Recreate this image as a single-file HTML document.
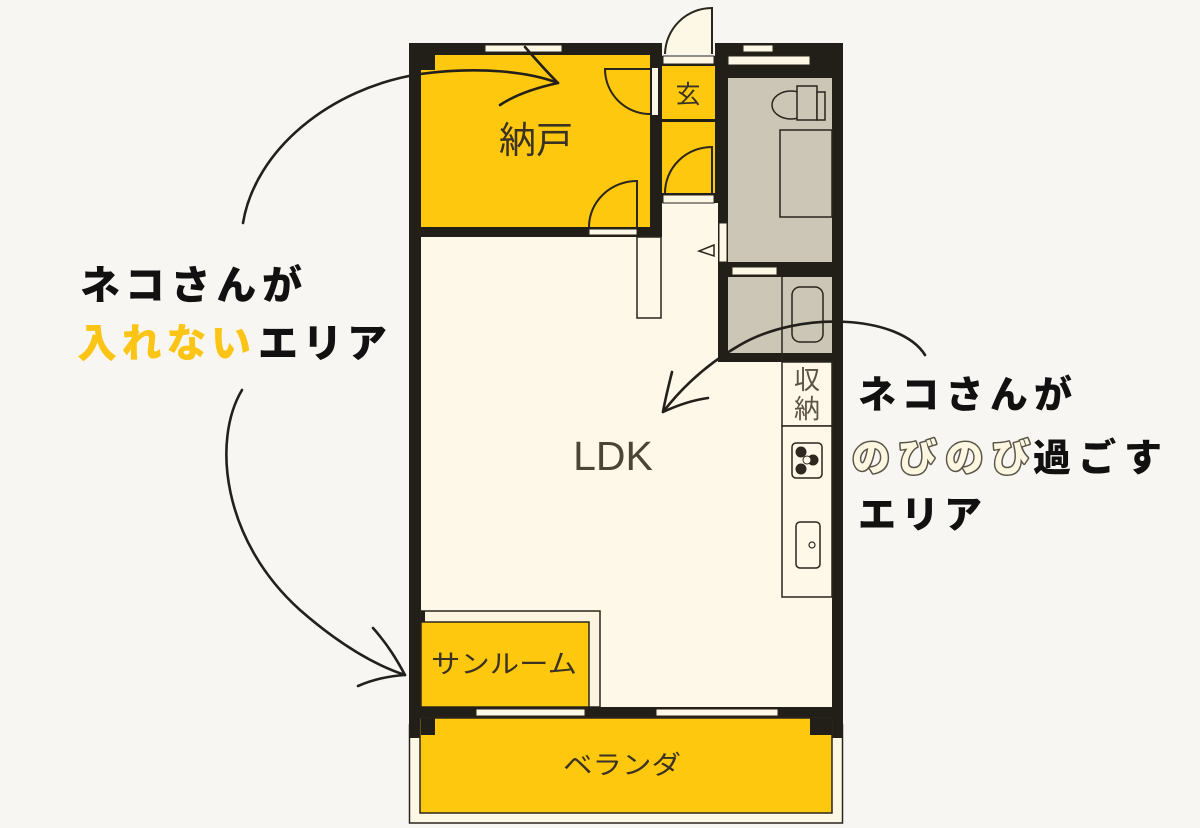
<!DOCTYPE html>
<html><head><meta charset="utf-8"><style>
html,body{margin:0;padding:0;background:#f7f6f2;}
svg{display:block}
</style></head><body>
<svg width="1200" height="828" viewBox="0 0 1200 828" xmlns="http://www.w3.org/2000/svg">
<rect width="1200" height="828" fill="#f7f6f2"/>

<!-- building walls -->
<rect x="409" y="43" width="434" height="695" fill="#221e18"/>
<!-- entrance gap -->
<rect x="662" y="40" width="53" height="16" fill="#f7f6f2"/>
<!-- entrance door outside -->
<path d="M712,54 L712,8 A47,47 0 0 0 665,54" fill="#fdf8e6" stroke="#2a251d" stroke-width="2"/>
<rect x="663" y="56" width="51" height="8" fill="#fdf8e6" stroke="#2a251d" stroke-width="1"/>

<!-- 納戸 -->
<rect x="421" y="55" width="229" height="172" fill="#fec80e"/>
<rect x="421" y="55" width="14" height="15" fill="#221e18"/>
<rect x="485" y="45" width="77" height="7" fill="#fdf8e6" stroke="#2a251d" stroke-width="1"/>
<rect x="652" y="68" width="6" height="47" fill="#fdf8e6"/>
<path d="M650,69 L605,69 A45,45 0 0 0 650,114" fill="none" stroke="#2a251d" stroke-width="2"/>
<rect x="589" y="229" width="48" height="6" fill="#fdf8e6" stroke="#2a251d" stroke-width="1"/>
<path d="M637,227 L637,181 A48,46 0 0 0 589,227" fill="none" stroke="#2a251d" stroke-width="2"/>
<text x="536" y="153" font-family="'Noto Sans CJK JP', sans-serif" font-size="37" fill="#3a3222" text-anchor="middle">納戸</text>

<!-- 玄 -->
<rect x="662" y="66" width="53" height="53" fill="#fec80e"/>
<rect x="662" y="122" width="53" height="71" fill="#fec80e"/>
<path d="M712,193 L712,147 A47,46 0 0 0 665,193" fill="none" stroke="#2a251d" stroke-width="2"/>
<text x="688" y="103" font-family="'Noto Sans CJK JP', sans-serif" font-size="25" fill="#3a3222" text-anchor="middle">玄</text>

<!-- LDK -->
<rect x="421" y="237" width="297" height="470" fill="#fdf8e7"/>
<rect x="718" y="362" width="114" height="345" fill="#fdf8e7"/>
<rect x="662" y="203" width="56" height="34" fill="#fdf8e7"/>
<rect x="663" y="195" width="51" height="8" fill="#fdf8e6" stroke="#2a251d" stroke-width="1"/>
<rect x="637" y="237" width="24" height="81" fill="#fdf8e7" stroke="#2a251d" stroke-width="1.5"/>

<!-- right top rooms -->
<rect x="743" y="45" width="30" height="7" fill="#fdf8e6" stroke="#2a251d" stroke-width="1"/>
<rect x="728" y="56" width="82" height="9" fill="#fdf8e6" stroke="#2a251d" stroke-width="1"/>
<rect x="728" y="78" width="104" height="184" fill="#cbc6b5"/>
<rect x="728" y="277" width="104" height="76" fill="#cbc6b5"/>
<rect x="732" y="267" width="45" height="8" fill="#fdf8e6" stroke="#2a251d" stroke-width="1"/>
<rect x="719" y="223" width="8" height="39" fill="#fdf8e6" stroke="#2a251d" stroke-width="1"/>
<path d="M714,245 L699,251 L714,256 Z" fill="#fdf8e6" stroke="#2a251d" stroke-width="1.5"/>
<!-- toilet -->
<ellipse cx="791" cy="105" rx="19" ry="14" fill="#cbc6b5" stroke="#2a251d" stroke-width="1.5"/>
<rect x="797" y="86" width="20" height="34" fill="#cbc6b5" stroke="#2a251d" stroke-width="1.5"/>
<rect x="817" y="92" width="8" height="28" fill="#cbc6b5" stroke="#2a251d" stroke-width="1.5"/>
<rect x="780" y="130" width="52" height="87" fill="none" stroke="#2a251d" stroke-width="1.5"/>
<!-- bath -->
<line x1="782" y1="277" x2="782" y2="362" stroke="#2a251d" stroke-width="1.5"/>
<rect x="792" y="287" width="31" height="55" rx="8" fill="none" stroke="#2a251d" stroke-width="1.5"/>

<!-- storage / kitchen -->
<rect x="782" y="362" width="50" height="64" fill="#fdf8e7" stroke="#2a251d" stroke-width="1.5"/>
<rect x="782" y="426" width="50" height="171" fill="#fdf8e7" stroke="#2a251d" stroke-width="1.5"/>
<rect x="792" y="443" width="30" height="35" rx="4" fill="#fdf8e7" stroke="#2a251d" stroke-width="1.5"/>
<circle cx="801" cy="452" r="5" fill="#2e2920" stroke="#2e2920" stroke-width="1"/>
<circle cx="813" cy="460" r="5" fill="#2e2920" stroke="#2e2920" stroke-width="1"/>
<circle cx="801" cy="469" r="5" fill="#2e2920" stroke="#2e2920" stroke-width="1"/>
<circle cx="807" cy="460" r="4" fill="#fdf8e7" stroke="#2e2920" stroke-width="1"/>
<rect x="796" y="522" width="24" height="46" rx="4" fill="none" stroke="#2a251d" stroke-width="1.5"/>
<circle cx="812" cy="545" r="3" fill="none" stroke="#2a251d" stroke-width="1.2"/>
<text x="807" y="389" font-family="'Noto Sans CJK JP', sans-serif" font-size="26" fill="#5c5444" text-anchor="middle">収</text>
<text x="807" y="418" font-family="'Noto Sans CJK JP', sans-serif" font-size="26" fill="#5c5444" text-anchor="middle">納</text>

<text x="613" y="470" font-family="'Liberation Sans', sans-serif" font-size="41" fill="#4a4536" text-anchor="middle">LDK</text>

<!-- sunroom -->
<rect x="421" y="611" width="179" height="96" fill="#fbf4de" stroke="#2a251d" stroke-width="1.5"/>
<rect x="421" y="611" width="4" height="11" fill="#221e18"/>
<rect x="421" y="622" width="168" height="85" fill="#fec80e" stroke="#2a251d" stroke-width="1.5"/>
<text x="504" y="673" font-family="'Noto Sans CJK JP', sans-serif" font-size="26" fill="#3a3222" text-anchor="middle" textLength="146" lengthAdjust="spacingAndGlyphs">サンルーム</text>

<!-- bottom wall & veranda -->
<rect x="409" y="707" width="434" height="11" fill="#221e18"/>
<rect x="476" y="709" width="109" height="7" fill="#fdf8e6" stroke="#2a251d" stroke-width="1"/>
<rect x="656" y="709" width="122" height="7" fill="#fdf8e6" stroke="#2a251d" stroke-width="1"/>
<rect x="409.5" y="725" width="433" height="98" fill="#fdf8e6" stroke="#2a251d" stroke-width="1.5"/>
<rect x="409" y="707" width="12" height="31" fill="#221e18"/>
<rect x="832" y="707" width="11" height="31" fill="#221e18"/>
<rect x="420" y="718" width="412" height="95" fill="#fec80e" stroke="#2a251d" stroke-width="1.5"/>
<rect x="421" y="718" width="14" height="17" fill="#221e18"/>
<rect x="810" y="718" width="22" height="17" fill="#221e18"/>
<text x="622" y="774" font-family="'Noto Sans CJK JP', sans-serif" font-size="26" fill="#3a3222" text-anchor="middle" textLength="118" lengthAdjust="spacingAndGlyphs">ベランダ</text>

<!-- arrows -->
<g fill="none" stroke="#231f1b" stroke-width="2.6" stroke-linecap="round" stroke-linejoin="round">
<path d="M243,223 C255,150 330,88 420,74 C480,66 530,72 558,83"/>
<path d="M525,47 C538,62 548,73 558,83 C535,88 515,95 500,105"/>
<path d="M242,390 C212,440 222,540 300,610 C340,645 375,665 405,675"/>
<path d="M373,628 C388,645 397,660 405,675 C388,676 372,680 358,686"/>
<path d="M925,355 C900,315 800,310 740,345 C705,365 680,390 663,412"/>
<path d="M672,372 C668,388 665,400 663,412 C678,405 693,400 708,398"/>
</g>

<!-- left text -->
<g font-family="'Noto Sans CJK JP', sans-serif" font-weight="900" font-size="40">
<text x="80" y="299" fill="#111" textLength="222" lengthAdjust="spacing">ネコさんが</text>
<text x="77" y="357" fill="#fcc516" textLength="174" lengthAdjust="spacing">入れない</text>
<text x="258" y="357" fill="#111" textLength="129" lengthAdjust="spacing">エリア</text>
</g>

<!-- right text -->
<g font-family="'Noto Sans CJK JP', sans-serif" font-weight="900" font-size="38">
<text x="858" y="408" fill="#111" textLength="214" lengthAdjust="spacing">ネコさんが</text>
<text x="852" y="471" fill="#fdf7e2" stroke="#5a5548" stroke-width="3" paint-order="stroke" stroke-linejoin="round" textLength="178" lengthAdjust="spacing">のびのび</text>
<text x="1033" y="471" fill="#111" textLength="129" lengthAdjust="spacing">過ごす</text>
<text x="858" y="528" fill="#111" textLength="124" lengthAdjust="spacing">エリア</text>
</g>
</svg>
</body></html>
